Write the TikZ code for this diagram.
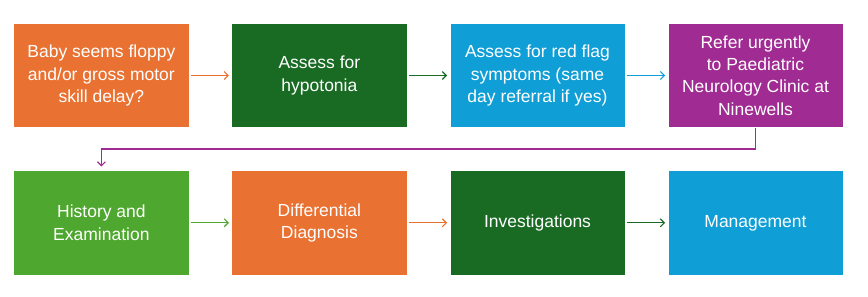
\documentclass[tikz,border=0pt]{standalone}
\usepackage{fontspec}
\setmainfont{Liberation Sans}
\usetikzlibrary{arrows.meta}
\definecolor{cOrange}{HTML}{E97132}
\definecolor{cDGreen}{HTML}{196B24}
\definecolor{cBlue}{HTML}{0F9ED5}
\definecolor{cPurple}{HTML}{A02B93}
\definecolor{cLGreen}{HTML}{4EA72E}
\begin{document}
\begin{tikzpicture}[x=1pt,y=-1pt,
  stepbox/.style={fill=#1, draw=white, line width=0.4pt, minimum width=175.5pt, minimum height=104.3pt,
    inner sep=0pt, text=white, align=center,
    font=\fontsize{17.5pt}{22.4pt}\selectfont},
  conn/.style={draw=#1, line width=1.1pt, -{Straight Barb[length=4pt,width=8pt,line width=1.1pt]},
    shorten <=2pt, shorten >=2.5pt}]
\useasboundingbox (0,0) rectangle (868,297);
\node[stepbox=cOrange] (b1) at (101.4,75.5) {Baby seems floppy\\and/or gross motor\\skill delay?};
\node[stepbox=cDGreen] (b2) at (319.4,75.5) {Assess for\\hypotonia};
\node[stepbox=cBlue] (b3) at (537.5,75.5) {Assess for red flag\\symptoms (same\\day referral if yes)};
\node[stepbox=cPurple] (b4) at (755.5,75.5) {Refer urgently\\to Paediatric\\Neurology Clinic at\\Ninewells};
\node[stepbox=cLGreen] (b5) at (101.4,222.8) {History and\\Examination};
\node[stepbox=cOrange] (b6) at (319.4,222.8) {Differential\\Diagnosis};
\node[stepbox=cDGreen] (b7) at (537.5,222.8) {Investigations};
\node[stepbox=cBlue] (b8) at (755.5,222.8) {Management};
\coordinate (t1) at (755.5,149);
\coordinate (t2) at (101.4,149);
\draw[conn=cOrange] (b1.east) -- (b2.west);
\draw[conn=cDGreen] (b2.east) -- (b3.west);
\draw[conn=cBlue] (b3.east) -- (b4.west);
\draw[conn=cPurple, shorten <=0pt, shorten >=4pt] (b4.south) -- (t1) -- (t2) -- (b5.north);
\draw[conn=cLGreen] (b5.east) -- (b6.west);
\draw[conn=cOrange] (b6.east) -- (b7.west);
\draw[conn=cDGreen] (b7.east) -- (b8.west);
\end{tikzpicture}
\end{document}
